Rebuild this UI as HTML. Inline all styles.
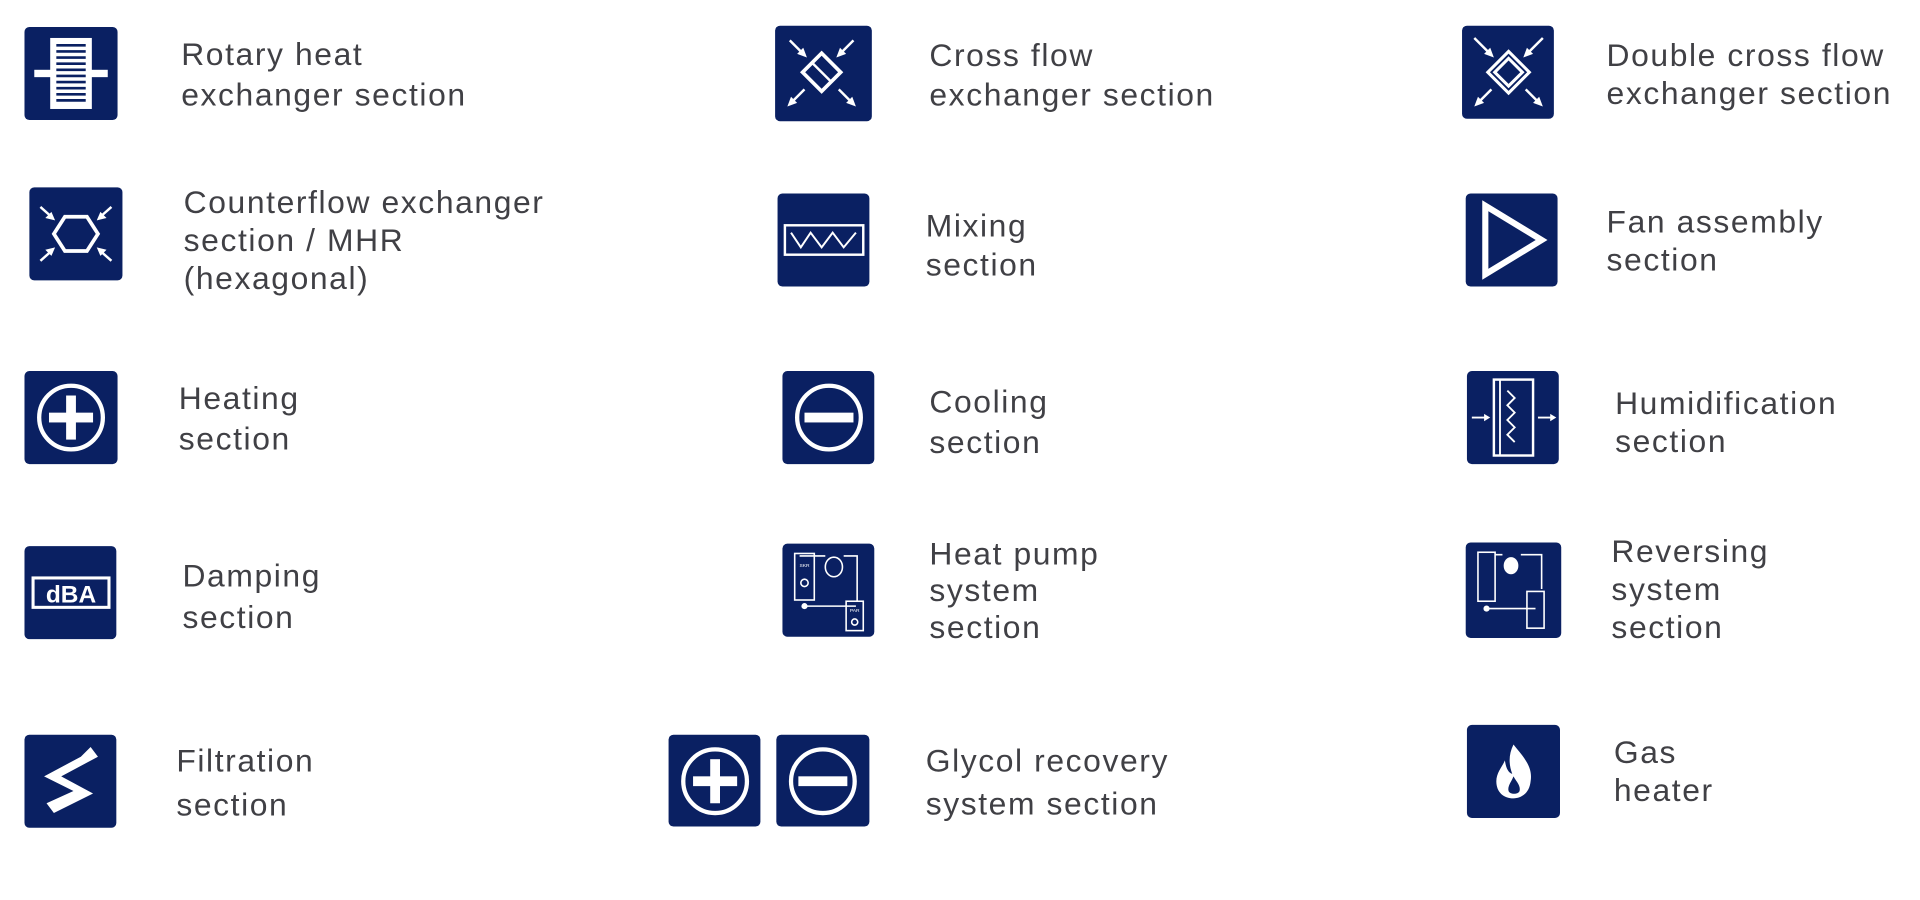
<!DOCTYPE html>
<html><head><meta charset="utf-8"><style>
html,body{margin:0;padding:0;background:#fff;}
body{width:1920px;height:900px;overflow:hidden;position:relative;}
#w{position:absolute;left:0;top:0;width:1568px;height:735px;transform:scale(1.22449);transform-origin:0 0;}
.i{position:absolute;width:76px;height:76px;background:#0a2062;border-radius:4px;}
.i svg{width:76px;height:76px;display:block;}
.t{position:absolute;font-family:"Liberation Sans",sans-serif;font-size:26px;letter-spacing:1.3px;color:#404045;white-space:nowrap;line-height:32px;}
</style></head><body><div id="w">

<!-- Row 1 -->
<div class="i" style="left:20px;top:22px;"><svg viewBox="0 0 76 76">
<rect x="8" y="35" width="60" height="6" fill="#fff"/>
<rect x="21" y="9" width="34" height="58" fill="#fff"/>
<g stroke="#0a2062" stroke-width="2.2">
<line x1="26" y1="15" x2="50" y2="15"/><line x1="26" y1="20" x2="50" y2="20"/><line x1="26" y1="25" x2="50" y2="25"/><line x1="26" y1="30" x2="50" y2="30"/><line x1="26" y1="35" x2="50" y2="35"/><line x1="26" y1="40" x2="50" y2="40"/><line x1="26" y1="45" x2="50" y2="45"/><line x1="26" y1="50" x2="50" y2="50"/><line x1="26" y1="55" x2="50" y2="55"/><line x1="26" y1="60" x2="50" y2="60"/></g>
</svg></div>
<div class="t" style="left:148px;top:28px;line-height:33px;">Rotary heat<br>exchanger section</div>

<div class="i" style="left:633px;top:21px;width:79px;height:78px;"><svg viewBox="0 0 76 76" preserveAspectRatio="none">
<g fill="none" stroke="#fff" stroke-width="3"><rect x="27" y="27" width="22" height="22" transform="rotate(45 38 38)"/></g>
<g stroke="#fff" stroke-width="2"><line x1="12" y1="12" x2="24" y2="24"/><line x1="64" y1="12" x2="52" y2="24"/><line x1="24" y1="52" x2="12" y2="64"/><line x1="52" y1="52" x2="64" y2="64"/><line x1="30" y1="30" x2="46" y2="46"/></g>
<g fill="#fff"><polygon points="26,26 18,23 23,18"/><polygon points="50,26 53,18 58,23"/><polygon points="10,66 13,58 18,63"/><polygon points="66,66 58,63 63,58"/></g>
</svg></div>
<div class="t" style="left:759px;top:29px;">Cross flow<br>exchanger section</div>

<div class="i" style="left:1194px;top:21px;width:75px;"><svg viewBox="0 0 76 76">
<g fill="none" stroke="#fff" stroke-width="2.5"><rect x="26" y="26" width="24" height="24" transform="rotate(45 38 38)"/><rect x="30" y="30" width="16" height="16" transform="rotate(45 38 38)"/></g>
<g stroke="#fff" stroke-width="2"><line x1="10" y1="10" x2="24" y2="24"/><line x1="66" y1="10" x2="52" y2="24"/><line x1="24" y1="52" x2="12" y2="64"/><line x1="52" y1="52" x2="64" y2="64"/></g>
<g fill="#fff"><polygon points="26,26 18,23 23,18"/><polygon points="50,26 53,18 58,23"/><polygon points="10,66 13,58 18,63"/><polygon points="66,66 58,63 63,58"/></g>
</svg></div>
<div class="t" style="left:1312px;top:30px;line-height:31px;">Double cross flow<br>exchanger section</div>

<!-- Row 2 -->
<div class="i" style="left:24px;top:153px;"><svg viewBox="0 0 76 76">
<polygon points="20,38 29,24 47,24 56,38 47,52 29,52" fill="none" stroke="#fff" stroke-width="3"/>
<g stroke="#fff" stroke-width="2"><line x1="9" y1="16" x2="18" y2="24"/><line x1="67" y1="16" x2="58" y2="24"/><line x1="9" y1="60" x2="18" y2="52"/><line x1="67" y1="60" x2="58" y2="52"/></g>
<g fill="#fff"><polygon points="21,27 13,25 18,20"/><polygon points="55,27 58,20 63,25"/><polygon points="21,49 18,56 13,51"/><polygon points="55,49 63,51 58,56"/></g>
</svg></div>
<div class="t" style="left:150px;top:150px;line-height:31px;">Counterflow exchanger<br>section / MHR<br>(hexagonal)</div>

<div class="i" style="left:635px;top:158px;width:75px;"><svg viewBox="0 0 76 76">
<rect x="6" y="26" width="64" height="24" fill="none" stroke="#fff" stroke-width="2"/>
<polyline points="11,32 19,44 27,32 36,44 45,32 54,44 64,32" fill="none" stroke="#fff" stroke-width="1.6"/>
</svg></div>
<div class="t" style="left:756px;top:168px;">Mixing<br>section</div>

<div class="i" style="left:1197px;top:158px;width:75px;"><svg viewBox="0 0 76 76">
<polygon points="16,10 16,66 62,38" fill="none" stroke="#fff" stroke-width="5" stroke-linejoin="miter"/>
</svg></div>
<div class="t" style="left:1312px;top:166px;line-height:31px;">Fan assembly<br>section</div>

<!-- Row 3 -->
<div class="i" style="left:20px;top:303px;"><svg viewBox="0 0 76 76">
<circle cx="38" cy="38" r="26" fill="none" stroke="#fff" stroke-width="3.5"/>
<rect x="20" y="34" width="36" height="8" fill="#fff"/><rect x="34" y="20" width="8" height="36" fill="#fff"/>
</svg></div>
<div class="t" style="left:146px;top:309px;line-height:33px;">Heating<br>section</div>

<div class="i" style="left:639px;top:303px;width:75px;"><svg viewBox="0 0 76 76">
<circle cx="38" cy="38" r="26" fill="none" stroke="#fff" stroke-width="3.5"/>
<rect x="18" y="34" width="40" height="8" fill="#fff"/>
</svg></div>
<div class="t" style="left:759px;top:312px;line-height:33px;">Cooling<br>section</div>

<div class="i" style="left:1198px;top:303px;width:75px;"><svg viewBox="0 0 76 76">
<rect x="22" y="7" width="32" height="62" fill="none" stroke="#fff" stroke-width="2"/>
<line x1="27" y1="7" x2="27" y2="69" stroke="#fff" stroke-width="1.5"/>
<polyline points="33,16 39,22 33,28 39,34 33,40 39,46 33,52 39,58" fill="none" stroke="#fff" stroke-width="1.5"/>
<g stroke="#fff" stroke-width="1.5"><line x1="4" y1="38" x2="16" y2="38"/><line x1="58" y1="38" x2="70" y2="38"/></g>
<g fill="#fff"><polygon points="19,38 14,35 14,41"/><polygon points="73,38 68,35 68,41"/></g>
</svg></div>
<div class="t" style="left:1319px;top:314px;line-height:31px;">Humidification<br>section</div>

<!-- Row 4 -->
<div class="i" style="left:20px;top:446px;width:75px;"><svg viewBox="0 0 76 76">
<rect x="7" y="26" width="62" height="24" fill="none" stroke="#fff" stroke-width="2.5"/>
<text x="38" y="46" text-anchor="middle" font-family="Liberation Sans,sans-serif" font-weight="bold" font-size="20" fill="#fff">dBA</text>
</svg></div>
<div class="t" style="left:149px;top:453px;line-height:34px;">Damping<br>section</div>

<div class="i" style="left:639px;top:444px;width:75px;"><svg viewBox="0 0 76 76">
<g fill="none" stroke="#fff" stroke-width="1.3">
<rect x="10" y="8" width="16" height="38"/><ellipse cx="42" cy="19" rx="7" ry="8"/>
<rect x="52" y="47" width="14" height="24"/>
<polyline points="18,50 18,51 60,51"/><polyline points="61,47 61,10 50,10"/><line x1="35" y1="10" x2="14" y2="10"/>
<circle cx="18" cy="32" r="3"/><circle cx="59" cy="64" r="2.5"/></g>
<circle cx="18" cy="51" r="2.5" fill="#fff"/>
<text x="18" y="19" text-anchor="middle" font-size="4" fill="#fff" font-family="Liberation Sans">SKR</text>
<text x="59" y="56" text-anchor="middle" font-size="4" fill="#fff" font-family="Liberation Sans">PAR</text>
</svg></div>
<div class="t" style="left:759px;top:437px;line-height:30px;">Heat pump<br>system<br>section</div>

<div class="i" style="left:1197px;top:443px;width:78px;height:78px;"><svg viewBox="0 0 76 76">
<g fill="none" stroke="#fff" stroke-width="1.3">
<rect x="10" y="8" width="14" height="40"/><rect x="50" y="40" width="14" height="30"/>
<polyline points="17,54 57,54"/><polyline points="62,38 62,10 45,10"/><line x1="30" y1="10" x2="24" y2="10"/></g>
<ellipse cx="37" cy="19" rx="6" ry="7" fill="#fff"/>
<circle cx="17" cy="54" r="2.5" fill="#fff"/>
</svg></div>
<div class="t" style="left:1316px;top:435px;line-height:31px;">Reversing<br>system<br>section</div>

<!-- Row 5 -->
<div class="i" style="left:20px;top:600px;width:75px;"><svg viewBox="0 0 76 76">
<polygon points="54,10 60,18 30,34 56,48 24,64 18,56 40,46 16,34 46,18" fill="#fff"/>
</svg></div>
<div class="t" style="left:144px;top:603px;line-height:36px;">Filtration<br>section</div>

<div class="i" style="left:546px;top:600px;width:75px;height:75px;"><svg viewBox="0 0 76 76">
<circle cx="38" cy="38" r="26" fill="none" stroke="#fff" stroke-width="3.5"/>
<rect x="20" y="34" width="36" height="8" fill="#fff"/><rect x="34" y="20" width="8" height="36" fill="#fff"/>
</svg></div>
<div class="i" style="left:634px;top:600px;width:76px;height:75px;"><svg viewBox="0 0 76 76">
<circle cx="38" cy="38" r="26" fill="none" stroke="#fff" stroke-width="3.5"/>
<rect x="18" y="34" width="40" height="8" fill="#fff"/>
</svg></div>
<div class="t" style="left:756px;top:604px;line-height:35px;">Glycol recovery<br>system section</div>

<div class="i" style="left:1198px;top:592px;"><svg viewBox="0 0 76 76">
<path d="M38 16 C46 26 54 34 52 46 C51 56 44 60 38 60 C30 60 24 55 24 46 C24 39 29 34 31 29 C32 36 34 39 37 40 C34 32 34 24 38 16 Z" fill="#fff"/>
<path d="M38 42 C41 47 44 50 43 54 C42 57 35 57 34 54 C33 50 36 47 38 42 Z" fill="#0a2062"/>
</svg></div>
<div class="t" style="left:1318px;top:599px;line-height:31px;">Gas<br>heater</div>

</div></body></html>
